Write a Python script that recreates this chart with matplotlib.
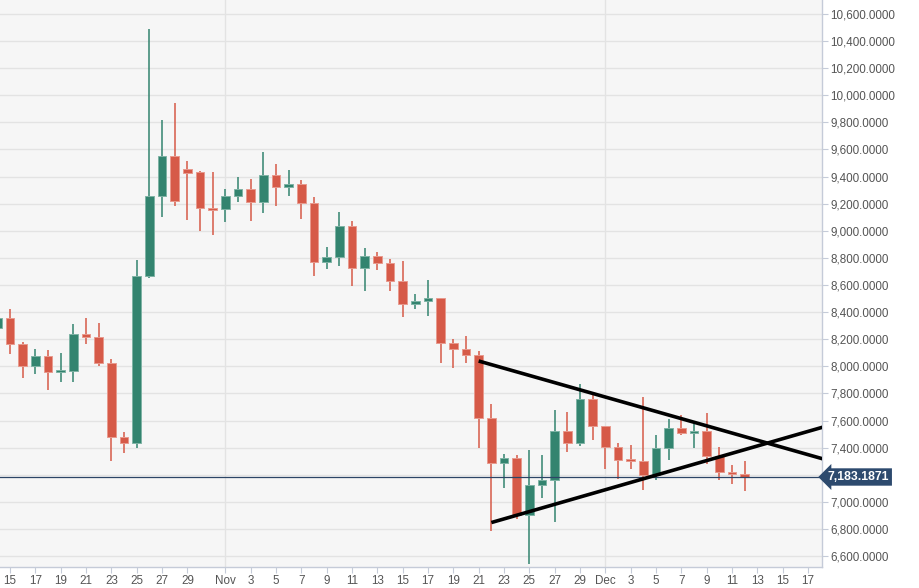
import pandas as pd
import numpy as np
import matplotlib
matplotlib.use('Agg')
import matplotlib.pyplot as plt
import matplotlib.dates as mdates
import matplotlib.transforms as mtransforms
from matplotlib.ticker import FuncFormatter

# daily candles, Oct 14 - Dec 12 2019
dates = pd.date_range('2019-10-14', '2019-12-12', freq='D')
opens = [8285, 8359, 8165, 8000, 8076, 7958, 7965, 8238, 8214, 8027,
         7478, 7434, 8666, 9259, 9552, 9454, 9432, 9166,
         9159, 9255, 9308, 9210, 9414, 9323, 9343, 9203, 8768, 8809,
         9033, 8723, 8812, 8760, 8632, 8460, 8482, 8502, 8170, 8125,
         8083, 7616, 7284, 7325, 6905, 7124, 7161, 7525, 7434, 7756,
         7557, 7407, 7308, 7301, 7198, 7395, 7542, 7508, 7520, 7340,
         7222, 7205]
highs = [8400, 8421, 8179, 8128, 8120, 8098, 8312, 8354, 8320, 8054,
         7515, 8785, 10487, 9816, 9941, 9513, 9440, 9432,
         9306, 9395, 9380, 9579, 9491, 9447, 9373, 9247, 8878, 9139,
         9072, 8871, 8841, 8790, 8775, 8534, 8635, 8505, 8199, 8221,
         8115, 7720, 7350, 7345, 7382, 7345, 7677, 7660, 7869, 7813,
         7560, 7432, 7417, 7771, 7491, 7609, 7638, 7572, 7653, 7402,
         7269, 7299]
lows = [8220, 8091, 7911, 7941, 7823, 7882, 7882, 8162, 8000, 7299,
        7358, 7395, 8649, 9104, 9185, 9077, 8996, 8967,
        9063, 9210, 9072, 9129, 9181, 9255, 9085, 8669, 8716, 8742,
        8595, 8558, 8709, 8558, 8366, 8425, 8373, 8027, 7990, 8027,
        7395, 6787, 7104, 6871, 6541, 7026, 6849, 7370, 7414, 7454,
        7242, 7168, 7240, 7085, 7159, 7306, 7491, 7395, 7277, 7161,
        7131, 7077]
closes = [8359, 8165, 8000, 8076, 7958, 7965, 8238, 8214, 8027, 7478,
          7434, 8666, 9259, 9552, 9220, 9429, 9166, 9156,
          9255, 9308, 9210, 9414, 9323, 9343, 9203, 8768, 8809, 9033,
          8723, 8812, 8760, 8632, 8460, 8482, 8502, 8170, 8125, 8086,
          7616, 7284, 7325, 6903, 7124, 7161, 7525, 7434, 7756, 7557,
          7407, 7308, 7301, 7198, 7395, 7542, 7508, 7520, 7340, 7222,
          7205, 7183]

last_price = 7183.1871

# drawn triangle (start / end points)
upper_line_dates = ['2019-11-21 00:00', '2019-12-18 05:00']
upper_line_vals = [8039, 7316]
lower_line_dates = ['2019-11-22 00:00', '2019-12-18 05:00']
lower_line_vals = [6847, 7552]

tick_dates = pd.to_datetime(
    ['2019-10-15', '2019-10-17', '2019-10-19', '2019-10-21', '2019-10-23',
     '2019-10-25', '2019-10-27', '2019-10-29', '2019-11-01', '2019-11-03',
     '2019-11-05', '2019-11-07', '2019-11-09', '2019-11-11', '2019-11-13',
     '2019-11-15', '2019-11-17', '2019-11-19', '2019-11-21', '2019-11-23',
     '2019-11-25', '2019-11-27', '2019-11-29', '2019-12-01', '2019-12-03',
     '2019-12-05', '2019-12-07', '2019-12-09', '2019-12-11', '2019-12-13',
     '2019-12-15', '2019-12-17'])
ytick_vals = list(range(6600, 10601, 200))
ytick_hidden = 7200  # covered by the last-price tag

GREEN = '#33846f'
RED = '#d65a48'
GREEN_EDGE = '#7fb3a5'
RED_EDGE = '#e89a8e'

plt.rcParams['font.family'] = ['Liberation Sans', 'DejaVu Sans']

fig = plt.figure(figsize=(9.19, 5.88), dpi=100)
fig.patch.set_facecolor('white')
ax = fig.add_axes([0.0, 21 / 588, 822 / 919, 567 / 588])
ax.set_facecolor('#f6f6f6')

x = mdates.date2num(dates)
o = np.array(opens, dtype=float)
c = np.array(closes, dtype=float)
up = c >= o
body_lo = np.minimum(o, c)
body_h = np.maximum(np.abs(c - o), 14)
colors = [GREEN if u else RED for u in up]
edges = [GREEN_EDGE if u else RED_EDGE for u in up]

ax.vlines(x, lows, highs, colors=colors, linewidth=1.1, zorder=3)
ax.bar(x, body_h, bottom=body_lo, width=0.7, color=colors,
       edgecolor=edges, linewidth=0.7, zorder=4)

# trend lines
ax.plot(mdates.date2num(pd.to_datetime(upper_line_dates)), upper_line_vals,
        color='black', linewidth=2.6, solid_capstyle='butt', zorder=6)
ax.plot(mdates.date2num(pd.to_datetime(lower_line_dates)), lower_line_vals,
        color='black', linewidth=2.6, solid_capstyle='butt', zorder=6)

# last price line and tag
ax.axhline(last_price, color='#2c4566', linewidth=0.9, zorder=5)
trans = mtransforms.blended_transform_factory(ax.transAxes, ax.transData)
ax.text(1.007, last_price, '{:,.4f}'.format(last_price), transform=trans,
        ha='left', va='center', fontsize=8.8, fontweight='bold', color='white',
        bbox=dict(boxstyle='larrow,pad=0.22', fc='#2d4a6e', ec='none'),
        clip_on=False, zorder=10)

x0 = mdates.date2num(pd.Timestamp('2019-10-15')) - 10 / 12.667
x1 = mdates.date2num(pd.Timestamp('2019-12-17')) + 14 / 12.667
ax.set_xlim(x0, x1)
ax.set_ylim(6519, 10703)

ax.set_xticks(mdates.date2num(tick_dates))
ax.xaxis.set_major_formatter(FuncFormatter(
    lambda v, _: mdates.num2date(v).strftime('%b') if mdates.num2date(v).day == 1
    else str(mdates.num2date(v).day)))
ax.yaxis.tick_right()
ax.set_yticks(ytick_vals)
ax.yaxis.set_major_formatter(FuncFormatter(
    lambda v, _: '' if round(v) == ytick_hidden else '{:,.4f}'.format(v)))
ax.tick_params(axis='both', colors='#c5cbd8', labelcolor='#555555',
               labelsize=8.4, length=4, width=0.8)
ax.tick_params(axis='x', pad=2)
ax.tick_params(axis='y', pad=2)

ax.grid(False)
for v in ytick_vals:
    ax.axhline(v, color='#e3e3e3', linewidth=1, zorder=1)
for d in ['2019-11-01', '2019-12-01']:
    ax.axvline(mdates.date2num(pd.Timestamp(d)), color='#e3e3e3', linewidth=1, zorder=1)

for s in ['top', 'left']:
    ax.spines[s].set_visible(False)
for s in ['right', 'bottom']:
    ax.spines[s].set_color('#c5cbd8')
    ax.spines[s].set_linewidth(1)

fig.savefig('out.png', dpi=100)
